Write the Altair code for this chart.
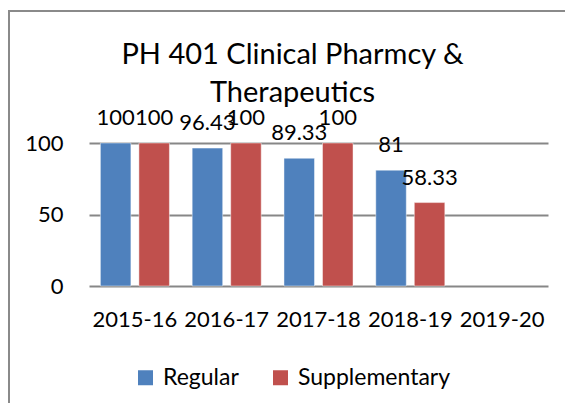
import altair as alt
import pandas as pd

years = ["2015-16", "2016-17", "2017-18", "2018-19", "2019-20"]
regular = [100, 96.43, 89.33, 81, None]
supplementary = [100, 100, 100, 58.33, None]
series = ["Regular", "Supplementary"]
colors = ["#4F81BD", "#C0504D"]
title_lines = ["PH 401 Clinical Pharmcy &", "Therapeutics"]

rows = []
for i, yr in enumerate(years):
    for s, vals in zip(series, [regular, supplementary]):
        if vals[i] is not None:
            rows.append({"year": yr, "series": s, "value": vals[i], "label": f"{vals[i]:g}"})
df = pd.DataFrame(rows)

FONT = "Lato"

x = alt.X("year:N",
          scale=alt.Scale(domain=years, paddingInner=0.248, paddingOuter=0.124),
          axis=alt.Axis(title=None, labelAngle=0, ticks=False, domain=False,
                        labelFont=FONT, labelFontSize=22, labelColor="black",
                        labelPadding=23, labelOverlap=False, labelLimit=200))
xo = alt.XOffset("series:N", scale=alt.Scale(domain=series, paddingInner=0.208, paddingOuter=0))
y = alt.Y("value:Q",
          scale=alt.Scale(domain=[0, 100], nice=False),
          axis=alt.Axis(title=None, values=[0, 50, 100], ticks=False, domain=False,
                        grid=True, gridColor="#878787", gridWidth=2,
                        labelFont=FONT, labelFontSize=22, labelColor="black",
                        labelPadding=26))

base = alt.Chart(df)

bars = base.mark_bar(stroke="white", strokeWidth=1, strokeOpacity=0.45).encode(
    x=x, xOffset=xo, y=y,
    color=alt.Color("series:N", scale=alt.Scale(domain=series, range=colors),
                    legend=alt.Legend(orient="none", direction="horizontal",
                                      legendX=45, legendY=223, title=None,
                                      symbolType="square", symbolSize=225,
                                      symbolStrokeWidth=0, labelFont=FONT,
                                      labelFontSize=23, labelColor="black",
                                      columnPadding=30, labelOffset=6, padding=0,
                                      labelLimit=300)),
)

labels = base.mark_text(baseline="alphabetic", dy=-18, font=FONT, fontSize=22,
                        color="black").encode(
    x=x, xOffset=xo, y=y, text="label:N")

frame_df = pd.DataFrame({"k": [0]})
frame_left = alt.Chart(frame_df).mark_rule(color="#8a8a8a", strokeWidth=2).encode(
    x=alt.value(-80), y=alt.value(-133), y2=alt.value(260))
frame_top = alt.Chart(frame_df).mark_rule(color="#8a8a8a", strokeWidth=2).encode(
    y=alt.value(-132), x=alt.value(-81), x2=alt.value(480))

chart = alt.layer(bars, labels, frame_left, frame_top).properties(
    width=459, height=143,
    title=alt.TitleParams(title_lines, font=FONT, fontSize=29, fontWeight="normal",
                          color="black", lineHeight=38, anchor="middle",
                          baseline="bottom", dx=-26, offset=-128),
    autosize=alt.AutoSizeParams(type="none"),
    padding={"left": 81, "top": 135, "right": 17, "bottom": 118},
).configure_view(stroke=None)

chart.save("out.html", embed_options={"renderer": "svg", "actions": False})
